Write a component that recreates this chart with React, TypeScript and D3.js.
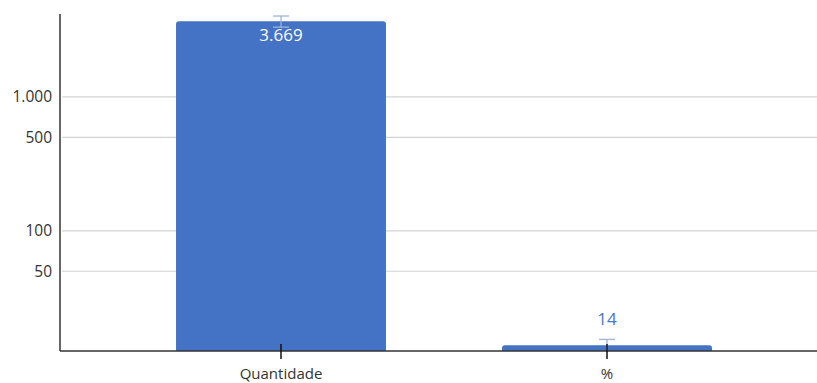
import React from "react";
import * as d3 from "d3";

// Data
const categories = ["Quantidade", "%"];
const values = [3669, 14];
const errors = [350, 1.5];
const valueLabels = ["3.669", "14"];
const yTicks = [50, 100, 500, 1000];
const yTickLabels = ["50", "100", "500", "1.000"];

const W = 817;
const H = 383;
const BAR = "#4472C4";
const FONT = "'Open Sans', 'Liberation Sans', sans-serif";

export default function App() {
  const axisX = 60;
  const baseY = 351;
  const topY = 14;

  const y = d3.scaleLog().domain([12.7, 4160]).range([baseY, topY]);
  const x = d3
    .scaleBand<string>()
    .domain(categories)
    .range([118, 770])
    .paddingInner(0.356)
    .paddingOuter(0.178);

  const bw = x.bandwidth();
  const r = 3;

  const barPath = (x0: number, y0: number, w: number, h: number) => {
    const rr = Math.min(r, h / 2);
    return `M${x0},${y0 + h}V${y0 + rr}Q${x0},${y0} ${x0 + rr},${y0}H${x0 + w - rr}Q${x0 + w},${y0} ${x0 + w},${y0 + rr}V${y0 + h}Z`;
  };

  return (
    <svg
      width={W}
      height={H}
      style={{ position: "absolute", left: 0, top: 0, background: "#fff" }}
      fontFamily={FONT}
    >
      {/* gridlines */}
      {yTicks.map((t) => (
        <line
          key={t}
          x1={axisX + 2}
          x2={W}
          y1={y(t)}
          y2={y(t)}
          stroke="#d3d3d3"
          strokeWidth={1.2}
        />
      ))}
      {/* y tick labels */}
      {yTicks.map((t, i) => (
        <text
          key={t}
          x={52}
          y={y(t)}
          dy="0.35em"
          textAnchor="end"
          fontSize={15.5}
          fill="#333"
        >
          {yTickLabels[i]}
        </text>
      ))}
      {/* bars */}
      {categories.map((c, i) => {
        const x0 = x(c)!;
        const yt = y(values[i]);
        return (
          <path key={c} d={barPath(x0, yt, bw, baseY - yt)} fill={BAR} />
        );
      })}
      {/* error bars */}
      {categories.map((c, i) => {
        const cx = x(c)! + bw / 2;
        const hi = y(values[i] + errors[i]);
        const lo = Math.min(baseY, y(values[i] - errors[i]));
        return (
          <g key={c} stroke="#9db3e0" strokeWidth={1.3}>
            <line x1={cx} x2={cx} y1={hi} y2={lo} />
            <line x1={cx - 8} x2={cx + 8} y1={hi} y2={hi} />
            {lo < baseY - 1 && <line x1={cx - 8} x2={cx + 8} y1={lo} y2={lo} />}
          </g>
        );
      })}
      {/* value labels */}
      {categories.map((c, i) => {
        const cx = x(c)! + bw / 2;
        const yt = y(values[i]);
        const inside = baseY - yt > 40;
        return (
          <text
            key={c}
            x={cx}
            y={inside ? yt + 20 : yt - 20}
            textAnchor="middle"
            fontSize={17}
            fill={inside ? "#fff" : "#4a78c8"}
          >
            {valueLabels[i]}
          </text>
        );
      })}
      {/* axes */}
      <line x1={axisX} x2={axisX} y1={topY} y2={baseY} stroke="#333" strokeWidth={1.5} />
      <line x1={axisX} x2={W} y1={baseY} y2={baseY} stroke="#333" strokeWidth={1.5} />
      {categories.map((c) => {
        const cx = x(c)! + bw / 2;
        return (
          <g key={c}>
            <line x1={cx} x2={cx} y1={344} y2={359} stroke="#111" strokeWidth={1.5} />
            <text x={cx} y={379} textAnchor="middle" fontSize={15} fill="#333">
              {c}
            </text>
          </g>
        );
      })}
    </svg>
  );
}
